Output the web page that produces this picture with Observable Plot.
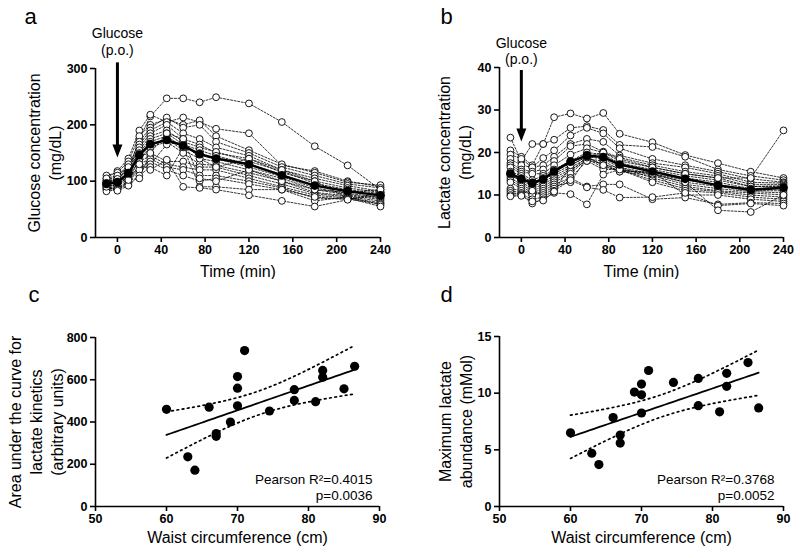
<!DOCTYPE html>
<html><head><meta charset="utf-8">
<script src="https://cdn.jsdelivr.net/npm/d3@7"></script>
<script src="https://cdn.jsdelivr.net/npm/@observablehq/plot@0.6"></script>
<style>
body{margin:0;background:#fff;}
#wrap{display:grid;grid-template-columns:400px 400px;grid-template-rows:279px 279px;width:800px;height:558px;}
#wrap svg{display:block;overflow:visible;}
</style></head><body><div id="wrap"></div>
<script>
// ---------- data ----------
const times = [-10, 0, 10, 20, 30, 45, 60, 75, 90, 120, 150, 180, 210, 240];
const timeTicks = [0, 40, 80, 120, 160, 200, 240];
const glucoseTicks = [0, 100, 200, 300];
const lactateTicks = [0, 10, 20, 30, 40];
const waistTicks = [50, 60, 70, 80, 90];
const aucTicks = [0, 200, 400, 600, 800];
const maxTicks = [0, 5, 10, 15];

// glucose (mg/dL), one row per subject, columns = times
const glucose = [
  [100,105,120,175,215,247,247,240,249,238,205,162,128,85],
  [105,118,140,190,218,205,213,205,193,185,128,118,100,90],
  [110,115,135,180,200,210,200,208,180,155,130,115,98,93],
  [98,100,125,170,195,213,195,200,170,150,125,110,95,88],
  [95,98,118,165,190,205,185,175,160,145,120,105,92,82],
  [92,95,112,160,185,200,175,165,150,140,115,100,88,80],
  [100,102,128,155,180,190,170,160,152,135,118,96,85,78],
  [90,93,108,150,175,185,165,155,145,130,112,92,82,75],
  [88,90,105,148,170,180,160,150,140,125,108,88,78,72],
  [96,96,115,145,165,175,155,140,135,120,105,85,76,70],
  [85,88,100,140,160,170,150,130,128,115,100,80,74,68],
  [102,108,130,145,150,135,135,125,125,110,95,78,72,65],
  [93,92,110,135,145,130,125,120,120,105,90,75,70,62],
  [87,86,98,130,140,125,120,110,110,100,88,70,68,60],
  [82,85,95,125,135,120,110,100,105,95,85,65,72,58],
  [95,100,112,120,130,165,170,140,125,140,120,100,70,55],
  [90,83,92,110,125,110,160,90,90,85,85,72,68,75],
  [105,110,125,130,120,138,90,88,85,75,65,55,67,80],
  [97,104,102,105,150,185,175,105,100,120,100,85,80,85]
];

// lactate (mg/dL)
const lactate = [
  [23.5,18.0,22.0,22.0,28.3,29.2,28.0,29.3,24.4,22.4,19.4,17.5,15.5,14.0],
  [20.5,19.0,17.0,22.0,23.0,25.8,26.2,25.3,21.8,21.3,19.0,16.0,14.5,13.5],
  [19.5,18.5,16.5,18.7,20.5,24.0,25.8,24.5,21.0,18.5,17.0,15.5,13.8,13.0],
  [18.5,17.0,16.5,17.0,19.0,22.0,23.2,22.5,19.3,17.5,16.5,15.0,13.0,12.8],
  [17.5,16.0,15.5,16.0,18.0,21.5,22.0,20.2,18.8,17.0,15.5,14.5,12.5,12.5],
  [17.0,15.5,15.0,15.0,17.0,19.5,21.0,20.0,18.0,16.5,15.0,14.0,12.0,12.2],
  [16.5,15.0,13.5,14.5,16.0,18.0,20.0,19.5,17.5,16.0,14.5,13.5,12.0,12.0],
  [15.5,14.5,13.0,14.0,15.5,17.5,19.5,19.0,17.0,15.5,14.0,13.0,11.5,11.8],
  [15.0,14.0,12.5,13.5,15.0,17.0,19.0,18.5,16.5,15.0,13.5,12.5,11.2,11.5],
  [14.5,13.5,12.0,13.0,14.5,16.5,18.5,18.0,16.0,14.8,13.0,12.0,11.0,11.0],
  [15.0,13.0,11.5,12.5,14.0,16.0,18.0,17.5,15.5,14.5,12.5,11.5,10.8,10.5],
  [14.0,12.5,11.0,12.0,13.5,15.5,19.0,17.0,16.5,14.0,12.0,11.0,10.5,10.0],
  [13.5,12.0,10.5,11.5,13.0,15.0,18.5,16.5,16.0,13.5,11.5,10.8,10.0,9.5],
  [13.0,11.5,10.0,11.0,12.5,14.0,18.0,16.0,16.0,13.0,11.0,10.5,9.5,9.0],
  [11.5,11.0,10.0,10.5,12.0,13.0,18.8,17.0,15.5,15.5,10.0,10.0,9.0,8.5],
  [11.0,10.5,11.0,10.0,11.5,14.0,12.0,12.5,12.5,9.0,9.4,7.8,8.2,8.0],
  [10.5,10.2,9.0,9.5,11.0,13.5,11.8,11.2,9.4,9.5,10.5,7.5,8.0,7.5],
  [10.0,10.0,8.0,9.0,10.5,10.2,7.8,14.8,16.0,15.0,13.0,6.4,6.0,10.0],
  [9.7,9.8,8.5,8.7,10.8,17.0,19.0,20.0,18.5,16.5,15.0,14.0,14.0,25.2]
];

// scatter data
const waist = [60,63,64,66,67,67,69,70,70,70,71,74.5,78,78,81,82,82,85,86.5];
const aucLactate = [460,235,172,470,345,332,400,615,560,477,738,452,553,502,496,644,612,557,664];
const maxLactate = [6.5,4.7,3.7,7.85,6.3,5.6,10.1,10.8,9.85,8.25,12.0,10.95,11.3,8.9,8.35,11.75,10.6,12.7,8.7];

// glucose administration arrows (data units)
const arrowGlucose = [{t: 0, top: 310, tip: 142, shaftEnd: 155}];
const arrowLactate = [{t: 0, top: 39.3, tip: 22.6, shaftEnd: 24.3}];

const statsC = "Pearson R\u00B2=0.4015\np=0.0036";
const statsD = "Pearson R\u00B2=0.3768\np=0.0052";
const tCrit = 2.11; // t(0.975, df = 17)

// ---------- helpers ----------
const FONT = "'Liberation Sans', Arial, Helvetica, sans-serif";
const AX = 1.6;

const headSymbol = {
  draw(ctx) { ctx.moveTo(0, 0); ctx.lineTo(-5, -13); ctx.lineTo(5, -13); ctx.closePath(); }
};

function frameMarks(xmin, ymin, xt, yt) {
  return [
    Plot.ruleY([ymin], {strokeWidth: AX}),
    Plot.ruleX([xmin], {strokeWidth: AX}),
    Plot.axisX(xt, {tickSize: 5, tickPadding: 3, strokeWidth: AX, fontWeight: "bold", fontSize: 12.5, label: null}),
    Plot.axisY(yt, {tickSize: 5, tickPadding: 3, strokeWidth: AX, fontWeight: "bold", fontSize: 12.5, label: null})
  ];
}

function letter(l, dx, dy) {
  return Plot.text([l], {text: d => d, frameAnchor: "top-left", textAnchor: "start", lineAnchor: "bottom", dx, dy, fontSize: 22});
}

function yTitle(t, dx, lh = 1.35) {
  return Plot.text([t], {text: d => d, frameAnchor: "left", rotate: -90, dx, textAnchor: "middle", lineAnchor: "middle", fontSize: 16, lineHeight: lh});
}

function xTitle(t, dy) {
  return Plot.text([t], {text: d => d, frameAnchor: "bottom", dy, textAnchor: "middle", lineAnchor: "middle", fontSize: 16});
}

function timePanel(series, yDomain, yTicks, arrow, arrowDy, marginLeft, marginRight, marginTop, ytitle, ydx, l, ldx, ldy) {
  const rows = series.flatMap((s, id) => s.map((v, i) => ({id, t: times[i], v})));
  const means = times.map((t, i) => ({t, v: d3.mean(series, s => s[i])}));
  return Plot.plot({
    width: 400, height: 279,
    marginLeft, marginRight, marginTop, marginBottom: 42,
    style: {fontFamily: FONT, fontSize: "12px", color: "black", background: "white", overflow: "visible"},
    x: {domain: [-20, 240]},
    y: {domain: yDomain},
    marks: [
      Plot.line(rows, {x: "t", y: "v", z: "id", stroke: "black", strokeWidth: 0.8, strokeDasharray: "2,1.6"}),
      Plot.dot(rows, {x: "t", y: "v", r: 3.4, fill: "white", stroke: "black", strokeWidth: 0.9}),
      Plot.line(means, {x: "t", y: "v", stroke: "black", strokeWidth: 2.5}),
      Plot.dot(means, {x: "t", y: "v", r: 4.3, fill: "black"}),
      ...frameMarks(-20, 0, timeTicks, yTicks),
      Plot.ruleX(arrow, {x: "t", y1: "top", y2: "shaftEnd", strokeWidth: 3}),
      Plot.dot(arrow, {x: "t", y: "tip", symbol: headSymbol, fill: "black", stroke: null}),
      Plot.text(arrow, {x: "t", y: "top", text: () => "Glucose\n(p.o.)", lineAnchor: "bottom", dy: arrowDy, fontSize: 14, lineHeight: 1.2}),
      yTitle(ytitle, ydx),
      xTitle("Time (min)", 34),
      letter(l, ldx, ldy)
    ]
  });
}

function fitLine(xs, ys) {
  const n = xs.length, mx = d3.mean(xs), my = d3.mean(ys);
  let sxx = 0, sxy = 0;
  for (let i = 0; i < n; i++) { sxx += (xs[i] - mx) ** 2; sxy += (xs[i] - mx) * (ys[i] - my); }
  const b = sxy / sxx, a = my - b * mx;
  let sse = 0;
  for (let i = 0; i < n; i++) sse += (ys[i] - a - b * xs[i]) ** 2;
  const s = Math.sqrt(sse / (n - 2));
  const [x0, x1] = d3.extent(xs);
  return d3.range(0, 41).map(k => {
    const x = x0 + (x1 - x0) * k / 40;
    const yh = a + b * x;
    const h = tCrit * s * Math.sqrt(1 / n + (x - mx) ** 2 / sxx);
    return {x, y: yh, lo: yh - h, hi: yh + h};
  });
}

function scatterPanel(ys, yDomain, yTicks, marginLeft, marginRight, marginTop, ytitle, ydx, lh, stats, sdx, l, ldx, ldy) {
  const pts = waist.map((w, i) => ({w, v: ys[i]}));
  const fit = fitLine(waist, ys);
  return Plot.plot({
    width: 400, height: 279,
    marginLeft, marginRight, marginTop, marginBottom: 279 - 227,
    style: {fontFamily: FONT, fontSize: "12px", color: "black", background: "white", overflow: "visible"},
    x: {domain: [50, 90]},
    y: {domain: yDomain},
    marks: [
      Plot.line(fit, {x: "x", y: "lo", stroke: "black", strokeWidth: 1.7, strokeDasharray: "1.7,3.6"}),
      Plot.line(fit, {x: "x", y: "hi", stroke: "black", strokeWidth: 1.7, strokeDasharray: "1.7,3.6"}),
      Plot.line(fit, {x: "x", y: "y", stroke: "black", strokeWidth: 1.8}),
      Plot.dot(pts, {x: "w", y: "v", r: 4.6, fill: "black"}),
      ...frameMarks(50, 0, waistTicks, yTicks),
      Plot.text([stats], {text: d => d, frameAnchor: "bottom-right", textAnchor: "end", lineAnchor: "bottom", dx: sdx, dy: -7, fontSize: 13.5, lineHeight: 1.14}),
      yTitle(ytitle, ydx, lh),
      xTitle("Waist circumference (cm)", 31),
      letter(l, ldx, ldy)
    ]
  });
}

const wrap = document.getElementById("wrap");
wrap.append(
  timePanel(glucose, [0, 300], glucoseTicks, arrowGlucose, -8, 95, 20, 68,
    "Glucose concentration\n(mg/dL)", -52, "a", -71, -45),
  timePanel(lactate, [0, 40], lactateTicks, arrowLactate, -6, 99, 17, 67,
    "Lactate concentration\n(mg/dL)", -46, "b", -59, -44),
  scatterPanel(aucLactate, [0, 800], aucTicks, 95, 21, 58,
    "Area under the curve for\nlactate kinetics\n(arbitrary units)", -60, 1.3, statsC, -7, "c", -67, -36),
  scatterPanel(maxLactate, [0, 15], maxTicks, 99, 17, 57,
    "Maximum lactate\nabundance (mMol)", -45, 1.35, statsD, -9, "d", -59, -35)
);
</script>
</body></html>
